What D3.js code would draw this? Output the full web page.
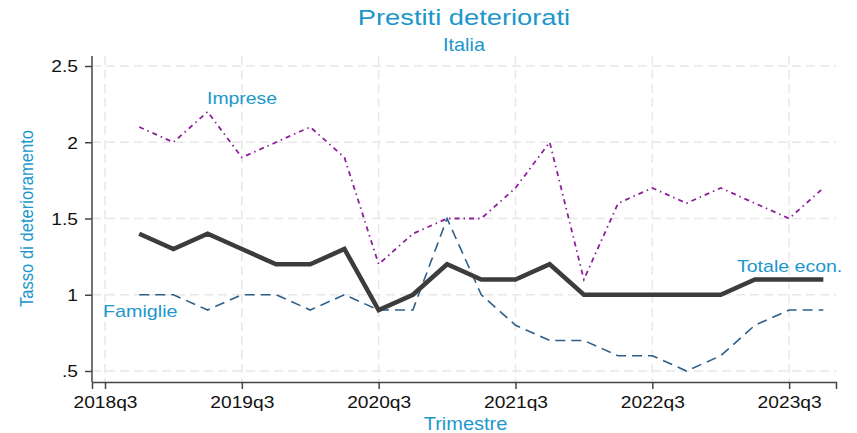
<!DOCTYPE html>
<html>
<head>
<meta charset="utf-8">
<script src="https://cdn.jsdelivr.net/npm/d3@7"></script>
<style>
  body { margin: 0; background: #fff; }
  text { font-family: "Liberation Sans", Arial, sans-serif; }
</style>
</head>
<body>
<svg id="chart" width="857" height="433"></svg>
<script>
// quarters 2018q4 .. 2023q4 (index 0 = 2018q3)
const quarters = d3.range(1, 22);
const totale   = [1.4, 1.3, 1.4, 1.3, 1.2, 1.2, 1.3, 0.9, 1.0, 1.2, 1.1, 1.1, 1.2, 1.0, 1.0, 1.0, 1.0, 1.0, 1.1, 1.1, 1.1];
const famiglie = [1.0, 1.0, 0.9, 1.0, 1.0, 0.9, 1.0, 0.9, 0.9, 1.5, 1.0, 0.8, 0.7, 0.7, 0.6, 0.6, 0.5, 0.6, 0.8, 0.9, 0.9];
const imprese  = [2.1, 2.0, 2.2, 1.9, 2.0, 2.1, 1.9, 1.2, 1.4, 1.5, 1.5, 1.7, 2.0, 1.1, 1.6, 1.7, 1.6, 1.7, 1.6, 1.5, 1.7];
const xTicks = [0, 4, 8, 12, 16, 20];
const xTickLabels = ["2018q3", "2019q3", "2020q3", "2021q3", "2022q3", "2023q3"];
const yTicks = [0.5, 1, 1.5, 2, 2.5];
const yTickLabels = [".5", "1", "1.5", "2", "2.5"];

const svg = d3.select('#chart');
const blue = '#1c97cc';
const sx = 1.13; // text in the original is a bit wider than Arial

var x = d3.scaleLinear().domain([-0.38, 21.37]).range([92, 836]);
var y = d3.scaleLinear().domain([0.5, 2.5]).range([371, 66]);
const plotTop = 56, plotBottom = 382;

// grid
svg.append('g').selectAll('line').data(yTicks).join('line')
  .attr('x1', 92).attr('x2', 836)
  .attr('y1', d => y(d)).attr('y2', d => y(d))
  .attr('stroke', '#e8e8e8').attr('stroke-width', 1.5).attr('stroke-dasharray', '9,5');
svg.append('g').selectAll('line').data(xTicks).join('line')
  .attr('y1', plotTop).attr('y2', plotBottom)
  .attr('x1', d => x(d)).attr('x2', d => x(d))
  .attr('stroke', '#e8e8e8').attr('stroke-width', 1.5).attr('stroke-dasharray', '9,5');

// axes
var yAxis = d3.axisLeft(y).tickValues(yTicks).tickFormat((d, i) => yTickLabels[i]).tickSizeOuter(0).tickSize(7);
var xAxis = d3.axisBottom(x).tickValues(xTicks).tickFormat((d, i) => xTickLabels[i]).tickSizeOuter(0).tickSize(7);

var gy = svg.append('g').attr('transform', 'translate(92,0)').call(yAxis);
gy.select('.domain').attr('d', `M0,${plotTop}V${plotBottom}`);
var gx = svg.append('g').attr('transform', `translate(0,${plotBottom})`).call(xAxis);
[gy, gx].forEach(g => {
  g.select('.domain').attr('stroke', '#444').attr('stroke-width', 1.5);
  g.selectAll('.tick line').attr('stroke', '#444').attr('stroke-width', 1.5);
  g.selectAll('.tick text').attr('fill', '#111').style('font-size', '17px')
    .style('font-family', '"Liberation Sans", Arial, sans-serif')
    .attr('transform', `scale(${sx},1)`);
});
gy.selectAll('.tick text').attr('x', -14 / sx).attr('dy', '0.34em');
gx.selectAll('.tick text').attr('y', 26).attr('dy', 0);

// lines
var line = d3.line().x((d, i) => x(quarters[i])).y(d => y(d));

svg.append('path').attr('d', line(imprese)).attr('fill', 'none')
  .attr('stroke', '#8e1f9c').attr('stroke-width', 1.8).attr('stroke-dasharray', '5,4,1.5,4');
svg.append('path').attr('d', line(famiglie)).attr('fill', 'none')
  .attr('stroke', '#2f5f88').attr('stroke-width', 1.6).attr('stroke-dasharray', '10,6');
svg.append('path').attr('d', line(totale)).attr('fill', 'none')
  .attr('stroke', '#3c3c3c').attr('stroke-width', 4.5).attr('stroke-linejoin', 'miter');

function label(px, py, str, size, stretch, anchor, rot) {
  var t = `translate(${px},${py})` + (rot ? ` rotate(${rot})` : '') + ` scale(${rot ? 1 : stretch},${rot ? stretch : 1})`;
  return svg.append('text').attr('transform', t).attr('text-anchor', anchor || 'start')
    .attr('fill', blue).style('font-size', size + 'px').text(str);
}

// series labels
label(207, 103.5, 'Imprese', 17, 1.14);
label(103, 317, 'Famiglie', 17, 1.16);
label(737, 272, 'Totale econ.', 17, 1.15);

// titles
label(464, 24.5, 'Prestiti deteriorati', 21.5, 1.27, 'middle');
label(464, 51, 'Italia', 18, 1.1, 'middle');
label(465.5, 430, 'Trimestre', 17.5, 1.14, 'middle');
label(33, 218.5, 'Tasso di deterioramento', 16.6, 1.12, 'middle', -90);
</script>
</body>
</html>
